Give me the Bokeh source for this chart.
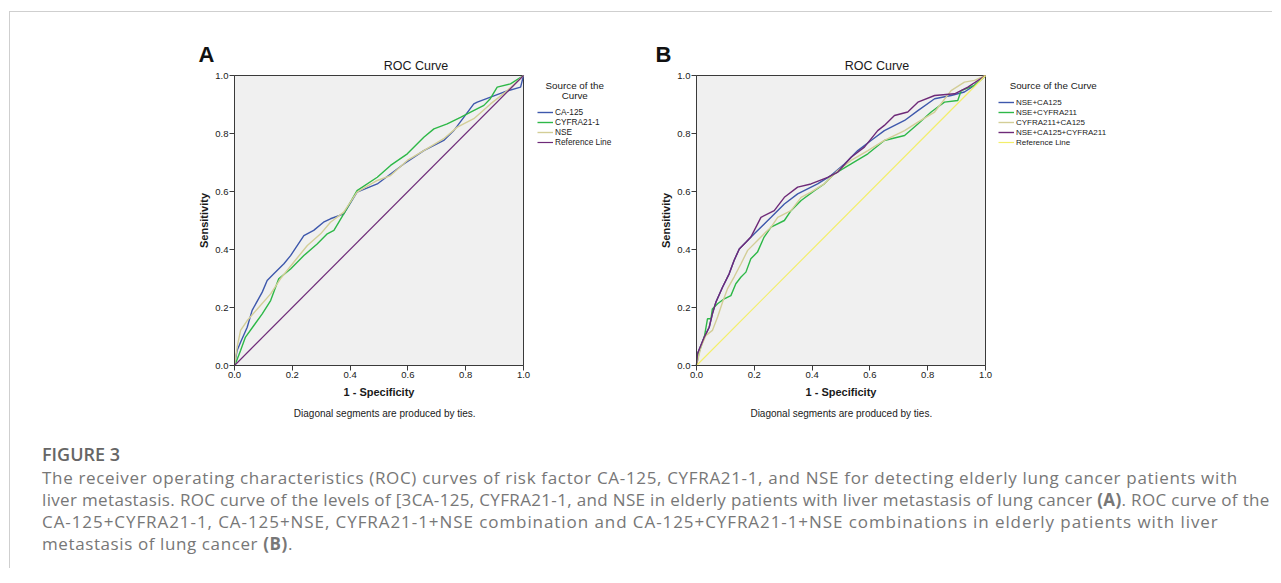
from bokeh.plotting import figure
from bokeh.models import Label, Legend, LegendItem, Div, FixedTicker, Range1d, NumeralTickFormatter
from bokeh.layouts import row, column
from bokeh.embed import file_html
from bokeh.resources import INLINE

# ---------------- data ----------------
TICKS = [0.0, 0.2, 0.4, 0.6, 0.8, 1.0]
REF_LINE = [0.0, 1.0]

# Panel A
A_LABELS = ["CA-125", "CYFRA21-1", "NSE", "Reference Line"]
a_ca125_x = [0, 0.009, 0.021, 0.044, 0.061, 0.096, 0.113, 0.136, 0.171, 0.194, 0.24, 0.274, 0.308, 0.332,
             0.378, 0.413, 0.424, 0.494, 0.586, 0.655, 0.724, 0.759, 0.828, 0.84, 0.932, 0.99, 1.0]
a_ca125_y = [0, 0.052, 0.08, 0.132, 0.19, 0.253, 0.293, 0.316, 0.351, 0.379, 0.448, 0.466, 0.494, 0.506,
             0.523, 0.58, 0.598, 0.626, 0.695, 0.741, 0.776, 0.81, 0.902, 0.908, 0.943, 0.96, 1.0]
a_cyfra_x = [0, 0.005, 0.021, 0.038, 0.067, 0.096, 0.125, 0.153, 0.194, 0.24, 0.286, 0.321, 0.344, 0.378,
             0.424, 0.494, 0.54, 0.598, 0.655, 0.69, 0.736, 0.782, 0.817, 0.863, 0.885, 0.909, 0.955, 1.0]
a_cyfra_y = [0, 0.01, 0.052, 0.098, 0.138, 0.178, 0.224, 0.299, 0.333, 0.379, 0.419, 0.454, 0.466, 0.523,
             0.603, 0.649, 0.69, 0.73, 0.787, 0.816, 0.833, 0.856, 0.874, 0.897, 0.92, 0.96, 0.971, 1.0]
a_nse_x = [0, 0.009, 0.021, 0.044, 0.079, 0.125, 0.159, 0.205, 0.252, 0.298, 0.332, 0.378, 0.424, 0.494,
           0.54, 0.598, 0.655, 0.724, 0.771, 0.828, 0.886, 0.944, 1.0]
a_nse_y = [0, 0.063, 0.121, 0.155, 0.195, 0.247, 0.299, 0.356, 0.414, 0.454, 0.494, 0.529, 0.598, 0.638,
           0.655, 0.707, 0.741, 0.782, 0.822, 0.851, 0.902, 0.948, 1.0]

# Panel B
B_LABELS = ["NSE+CA125", "NSE+CYFRA211", "CYFRA211+CA125", "NSE+CA125+CYFRA211", "Reference Line"]
b_nse_ca125_x = [0, 0.003, 0.027, 0.044, 0.055, 0.067, 0.09, 0.113, 0.13, 0.148, 0.171, 0.2, 0.258, 0.304,
                 0.35, 0.419, 0.465, 0.512, 0.558, 0.604, 0.65, 0.72, 0.766, 0.824, 0.881, 0.927, 0.962, 1.0]
b_nse_ca125_y = [0, 0.04, 0.098, 0.132, 0.178, 0.218, 0.27, 0.316, 0.362, 0.402, 0.425, 0.454, 0.511, 0.557,
                 0.592, 0.626, 0.655, 0.695, 0.741, 0.776, 0.81, 0.845, 0.879, 0.92, 0.931, 0.943, 0.966, 1.0]
b_nse_cyfra_x = [0, 0.009, 0.027, 0.038, 0.05, 0.055, 0.073, 0.096, 0.119, 0.136, 0.154, 0.171, 0.188, 0.211,
                 0.234, 0.258, 0.304, 0.327, 0.362, 0.408, 0.442, 0.477, 0.535, 0.593, 0.65, 0.72, 0.766,
                 0.812, 0.858, 0.904, 0.916, 0.962, 1.0]
b_nse_cyfra_y = [0, 0.046, 0.098, 0.161, 0.161, 0.195, 0.213, 0.23, 0.241, 0.282, 0.305, 0.322, 0.368, 0.391,
                 0.443, 0.477, 0.5, 0.534, 0.569, 0.603, 0.626, 0.661, 0.695, 0.73, 0.776, 0.793, 0.833,
                 0.874, 0.908, 0.914, 0.948, 0.966, 1.0]
b_cyfra_ca125_x = [0, 0.015, 0.032, 0.055, 0.073, 0.09, 0.107, 0.13, 0.154, 0.177, 0.211, 0.24, 0.258, 0.281,
                   0.327, 0.362, 0.396, 0.442, 0.489, 0.535, 0.593, 0.65, 0.72, 0.766, 0.824, 0.881, 0.927,
                   0.962, 1.0]
b_cyfra_ca125_y = [0, 0.063, 0.103, 0.121, 0.167, 0.218, 0.264, 0.305, 0.351, 0.397, 0.431, 0.46, 0.477, 0.511,
                   0.534, 0.58, 0.598, 0.626, 0.672, 0.707, 0.741, 0.776, 0.81, 0.839, 0.874, 0.948, 0.977,
                   0.983, 1.0]
b_all_x = [0, 0.003, 0.027, 0.044, 0.055, 0.067, 0.09, 0.113, 0.13, 0.148, 0.171, 0.188, 0.2, 0.223, 0.269,
           0.304, 0.35, 0.396, 0.454, 0.489, 0.535, 0.581, 0.627, 0.65, 0.685, 0.731, 0.766, 0.824, 0.893,
           0.939, 1.0]
b_all_y = [0, 0.04, 0.098, 0.132, 0.178, 0.218, 0.27, 0.316, 0.362, 0.402, 0.425, 0.443, 0.466, 0.511, 0.534,
           0.58, 0.615, 0.626, 0.649, 0.667, 0.718, 0.753, 0.81, 0.828, 0.862, 0.874, 0.908, 0.931, 0.937,
           0.96, 1.0]

CAPTION_TITLE = "FIGURE 3"
CAPTION_LINES = [
    "The receiver operating characteristics (ROC) curves of risk factor CA-125, CYFRA21-1, and NSE for detecting elderly lung cancer patients with",
    "liver metastasis. ROC curve of the levels of [3CA-125, CYFRA21-1, and NSE in elderly patients with liver metastasis of lung cancer <b>(A)</b>. ROC curve of the",
    "CA-125+CYFRA21-1, CA-125+NSE, CYFRA21-1+NSE combination and CA-125+CYFRA21-1+NSE combinations in elderly patients with liver",
    "metastasis of lung cancer <b>(B)</b>.",
]
CAPTION_SPACING = [0.67, 0.34, 0.93, 0.6]

BLUE, GREEN, TAN, PURPLE, YELLOW = "#3E58AC", "#2EB848", "#D3CE97", "#6E2A78", "#F3EE6A"
FONT = "Liberation Sans"
INK = "#1a1a1a"

# ---------------- layout (pixels) ----------------
ORIGIN_Y = 12                        # top of the panels' row on the page
PANEL_H = 420
BOX_TOP, BOX_BOTTOM = 75, 365        # plot box vertical extent on the page
BOX_W = 289


def make_panel(left_px, width, box_left_px, letter, letter_px, title_px, note_px, series, ref_color,
               legend_titles, legend_title_px, legend_left_px, legend_top_px, label_size):
    sx = BOX_W
    sy = BOX_BOTTOM - BOX_TOP
    x0 = (left_px - box_left_px) / sx
    x1 = (left_px + width - box_left_px) / sx
    y1 = (BOX_BOTTOM - ORIGIN_Y) / sy
    y0 = (BOX_BOTTOM - (ORIGIN_Y + PANEL_H)) / sy
    px2x = lambda px: (px - box_left_px) / sx
    py2y = lambda py: (BOX_BOTTOM - py) / sy

    p = figure(width=width, height=PANEL_H, x_range=Range1d(x0, x1), y_range=Range1d(y0, y1),
               output_backend="svg", toolbar_location=None, title=None, min_border=0,
               background_fill_color="white", border_fill_color="white", outline_line_color=None)
    p.grid.visible = False

    # plot box
    p.quad(left=[TICKS[0]], right=[TICKS[-1]], bottom=[TICKS[0]], top=[TICKS[-1]],
           fill_color="#F0F0F0", line_color="#3a3a3a", line_width=1)

    for ax in (p.xaxis[0], p.yaxis[0]):
        ax.fixed_location = 0
        ax.bounds = (TICKS[0], TICKS[-1])
        ax.ticker = FixedTicker(ticks=TICKS)
        ax.formatter = NumeralTickFormatter(format="0.0")
        ax.major_tick_in = 0
        ax.major_tick_out = 5
        ax.minor_tick_line_color = None
        ax.axis_line_color = "#3a3a3a"
        ax.major_tick_line_color = "#3a3a3a"
        ax.major_label_text_font = FONT
        ax.major_label_text_font_size = "9.5px"
        ax.major_label_text_color = INK
        ax.axis_label_text_font = FONT
        ax.axis_label_text_font_size = "11px"
        ax.axis_label_text_font_style = "bold"
        ax.axis_label_text_color = INK
        ax.major_label_standoff = 1
    p.xaxis.axis_label = "1 - Specificity"
    p.yaxis.axis_label = "Sensitivity"
    p.xaxis.axis_label_standoff = 5
    p.yaxis.axis_label_standoff = 2

    items = []
    for (xs, ys, color, lab) in series:
        r = p.line(xs, ys, line_color=color, line_width=1.4)
        items.append(LegendItem(label=lab, renderers=[r]))
    r = p.line(REF_LINE, REF_LINE, line_color=ref_color, line_width=1.2)
    items.append(LegendItem(label="Reference Line", renderers=[r]))

    n = len(items)
    legend_bottom_py = legend_top_px + 10 * n
    legend = Legend(items=items,
                    location=(round(legend_left_px - left_px), round(ORIGIN_Y + PANEL_H - legend_bottom_py)),
                    padding=0, margin=0, spacing=0,
                    glyph_width=16, glyph_height=10, label_height=10, label_standoff=2,
                    label_text_font=FONT, label_text_font_size=label_size,
                    label_text_color=INK, border_line_alpha=0, background_fill_alpha=0)
    p.add_layout(legend)

    # Labels: baseline positions (empirical correction of 0.4 x font size)
    def add_text(pos, text, size, **kw):
        p.add_layout(Label(x=px2x(pos[0]), y=py2y(pos[1] - 0.4 * size), text=text, text_font=FONT,
                           text_font_size="%gpx" % size, text_baseline="alphabetic", **kw))

    add_text(letter_px, letter, 22, text_font_style="bold", text_color="#111111", text_align="left")
    add_text(title_px, "ROC Curve", 12.5, text_color=INK, text_align="center")
    add_text(note_px, "Diagonal segments are produced by ties.", 10, text_color=INK, text_align="center")
    for i, t in enumerate(legend_titles):
        add_text((legend_title_px[0], legend_title_px[1] + 10 * i), t, 9.8, text_color=INK,
                 text_align="center")
    return p


pA = make_panel(10, 630, 234, "A", (198, 63), (415.5, 70), (384.2, 416.5),
                [(a_ca125_x, a_ca125_y, BLUE, A_LABELS[0]),
                 (a_cyfra_x, a_cyfra_y, GREEN, A_LABELS[1]),
                 (a_nse_x, a_nse_y, TAN, A_LABELS[2])],
                PURPLE, ["Source of the", "Curve"], (574.2, 89), 537, 106.7, "8.3px")

pB = make_panel(640, 632, 696, "B", (655, 63), (876.5, 70), (840.8, 416.5),
                [(b_nse_ca125_x, b_nse_ca125_y, BLUE, B_LABELS[0]),
                 (b_nse_cyfra_x, b_nse_cyfra_y, GREEN, B_LABELS[1]),
                 (b_cyfra_ca125_x, b_cyfra_ca125_y, TAN, B_LABELS[2]),
                 (b_all_x, b_all_y, PURPLE, B_LABELS[3])],
                YELLOW, ["Source of the Curve"], (1052.7, 89), 998.5, 96.7, "8px")

body = "".join(
    '<div style="letter-spacing:%.2fpx;">%s</div>' % (sp, ln) for sp, ln in zip(CAPTION_SPACING, CAPTION_LINES)
)
caption_html = (
    '<div style="font-family:\'Open Sans\';color:#777777;padding:11px 0 0 32px;white-space:nowrap;">'
    '<div style="font-size:18px;line-height:22px;font-weight:600;color:#666666;">' + CAPTION_TITLE + '</div>'
    '<div style="font-size:17px;line-height:22px;margin-top:2px;">' + body + '</div>'
    '</div>'
)
caption = Div(text=caption_html, width=1262, height=136, margin=0)

layout = column(row(pA, pB), caption,
                styles={"border-top": "1px solid #cfcfcf", "border-left": "1px solid #cfcfcf"},
                margin=(11, 0, 0, 9))

open("out.html", "w").write(file_html(layout, INLINE))
